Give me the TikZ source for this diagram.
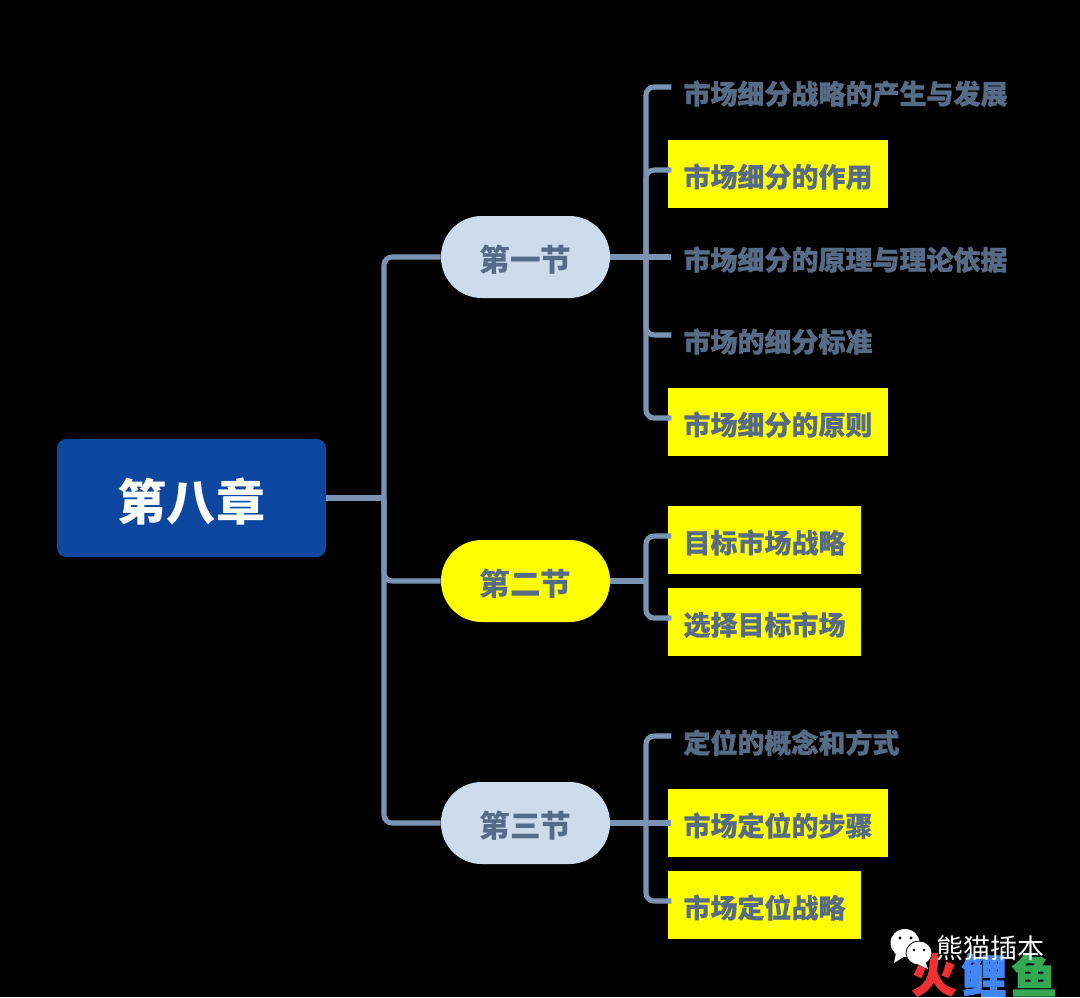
\documentclass[tikz,border=0pt]{standalone}
\usepackage{fontspec}
\setmainfont{Noto Sans CJK SC}
\definecolor{croot}{HTML}{0E479F}
\definecolor{csec}{HTML}{CDDCEC}
\definecolor{chl}{HTML}{FFFF00}
\definecolor{cline}{HTML}{7C94B4}
\definecolor{ctext}{HTML}{566B85}
\definecolor{cfire}{HTML}{F03033}
\definecolor{ccarp}{HTML}{4285F4}
\definecolor{cfish}{HTML}{34A853}
\tikzset{
  every picture/.style={x=0.75pt,y=-0.75pt},
  rootbox/.style={fill=croot, text=white, rounded corners=7pt, minimum width=201.75pt, minimum height=88.5pt,
    inner sep=0pt, font=\fontsize{36.8}{36.8}\bfseries, text height=38.5pt, text depth=4.5pt},
  secbox/.style={fill=csec, text=ctext, rounded corners=30.5pt, minimum width=126.75pt, minimum height=61.5pt,
    inner sep=0pt, font=\fontsize{23}{23}\bfseries, text height=25pt, text depth=3pt},
  leaf/.style={text=ctext, anchor=west, inner xsep=11.4pt, inner ysep=0pt, minimum height=51pt,
    font=\fontsize{20.25}{20.25}\bfseries\addfontfeature{FakeBold=1.4}, text height=22pt, text depth=2.5pt},
  leafhl/.style={leaf, fill=chl, font=\fontsize{20.25}{20.25}\bfseries\addfontfeature{FakeBold=0.4}},
  conn/.style={cline, line width=3.8pt, rounded corners=6pt},
  logochar/.style={font=\fontsize{34}{34}\bfseries\addfontfeature{FakeBold=2}, inner sep=0pt},
}
\begin{document}
\begin{tikzpicture}
  \fill[black] (0,0) rectangle (1080,997);
  \path[use as bounding box] (0,0) rectangle (1080,997);
  % chapter and sections
  \node[rootbox] (chap) at (191.5,498) {第八章};
  \node[secbox] (sec1) at (525.5,257) {第一节};
  \node[secbox,fill=chl] (sec2) at (525.5,581) {第二节};
  \node[secbox] (sec3) at (525.5,823) {第三节};
  % leaves
  \node[leaf] (a1) at (668,91) {市场细分战略的产生与发展};
  \node[leafhl] (a2) at (668,174) {市场细分的作用};
  \node[leaf] (a3) at (668,257) {市场细分的原理与理论依据};
  \node[leaf] (a4) at (668,339) {市场的细分标准};
  \node[leafhl] (a5) at (668,422) {市场细分的原则};
  \node[leafhl] (b1) at (668,540) {目标市场战略};
  \node[leafhl] (b2) at (668,622) {选择目标市场};
  \node[leaf] (c1) at (668,740) {定位的概念和方式};
  \node[leafhl] (c2) at (668,823) {市场定位的步骤};
  \node[leafhl] (c3) at (668,905) {市场定位战略};
  \foreach \n in {a1,a2,a3,a4,a5,b1,b2,c1,c2,c3}
    \coordinate (\n p) at ([xshift=2.5pt,yshift=3pt]\n.west);
  % connectors
  \coordinate (tr0) at (384,498);
  \coordinate (tr1) at (646,257);
  \coordinate (tr2) at (646,581);
  \coordinate (tr3) at (646,823);
  \draw[conn] (chap.east) -- (tr0);
  \foreach \n in {sec1,sec2,sec3}
    \draw[conn] (tr0) |- (\n.west);
  \draw[conn] (sec1.east) -- (sec1.east -| a3p);
  \foreach \n in {a1,a2,a4,a5}
    \draw[conn] (tr1) |- (\n p);
  \draw[conn] (sec2.east) -- (tr2);
  \foreach \n in {b1,b2}
    \draw[conn] (tr2) |- (\n p);
  \draw[conn] (sec3.east) -- (sec3.east -| c2p);
  \foreach \n in {c1,c3}
    \draw[conn] (tr3) |- (\n p);
  % corner mark
  \node[logochar,text=cfire] (fire) at (934,975) {火};
  \node[logochar,text=ccarp] (carp) at (984,975) {鲤};
  \node[logochar,text=cfish] (fish) at (1034,975) {鱼};
  \fill[white] (905,943) ellipse (14.5 and 14);
  \fill[white] (896,953) -- (894,963) -- (905,956) -- cycle;
  \fill[white,draw=black,line width=0.6pt] (919,953) ellipse (13 and 12);
  \fill[white] (925,961) -- (928,969) -- (918,964) -- cycle;
  \fill[black] (900,938) circle (1.6) (911,938) circle (1.6) (914,950) circle (1.4) (924,950) circle (1.4);
  \node[text=white, inner sep=0pt, font=\fontsize{20.25}{20.25}\selectfont] (sign) at (990.5,948) {熊猫插本};
\end{tikzpicture}
\end{document}
